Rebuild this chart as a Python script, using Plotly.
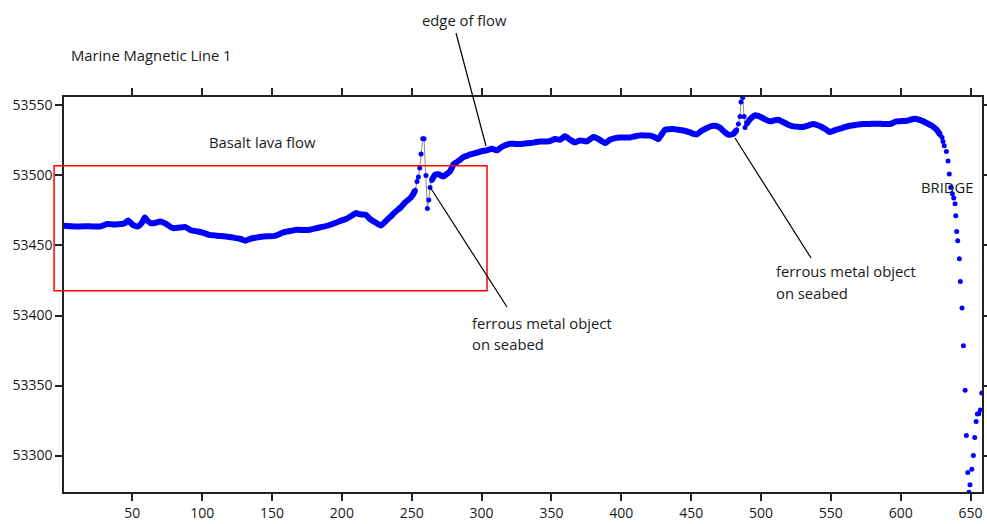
import plotly.graph_objects as go

# ---------------- data ----------------
flow_x = [1, 6, 12, 19, 27, 32, 37, 42, 45, 47, 49, 51, 54, 57, 59, 61, 63, 66, 70, 74,
          79, 84, 88, 92, 97, 101, 105, 109, 113, 118, 122, 127, 131, 134, 137, 141, 144,
          148, 152, 155, 158, 163, 168, 173, 177, 182, 187, 192, 195, 199, 203, 207, 210,
          213, 217, 220, 223, 226, 228, 231, 235, 238, 242, 245, 249, 251, 252.5]
flow_y = [53464.1, 53463.8, 53463.6, 53463.7, 53463.6, 53465.3, 53465.0, 53465.3, 53466.2,
          53467.9, 53466.0, 53464.3, 53463.6, 53466.5, 53470.0, 53467.5, 53466.0, 53466.0,
          53467.1, 53465.5, 53462.4, 53462.8, 53463.1, 53460.9, 53460.0, 53459.0, 53457.6,
          53457.2, 53456.7, 53456.3, 53455.7, 53454.8, 53453.4, 53454.6, 53455.3, 53456.0,
          53456.4, 53456.6, 53456.9, 53458.0, 53459.3, 53460.3, 53461.2, 53461.0, 53461.2,
          53462.4, 53463.5, 53464.8, 53466.0, 53467.6, 53468.9, 53471.2, 53473.1, 53472.3,
          53471.9, 53469.0, 53467.0, 53465.3, 53464.3, 53467.0, 53470.7, 53473.8, 53477.1,
          53480.5, 53483.9, 53486.5, 53489.5]

spike1_x = [253.8, 254.8, 255.7, 256.7, 257.9, 258.8, 260.2, 261.2, 262.2, 263.1]
spike1_y = [53495.7, 53498.9, 53505.3, 53515.3, 53526.2, 53526.2, 53500.0, 53476.4,
            53482.4, 53491.4]

shelf_x = [264.3, 266.7, 269, 272.6, 275, 277.4, 280, 282.2, 285, 287, 289.4, 292, 296.5,
           300, 303.7, 307.3, 310.9, 314.4, 317, 320.4, 324, 327.5, 331, 334.7, 338, 341.8,
           345, 347.8, 350, 352.6, 356.2, 359.7, 363.3, 366.9, 370.5, 375.3, 377.5, 380,
           383.6, 386, 388.4, 391.9, 395, 399.1, 402.5, 406.3, 410, 413.4, 417, 420.6, 424,
           426.5, 429, 431.3, 434, 437.3, 441, 444.4, 449.2, 452, 454, 457, 461.2, 465.9,
           468, 470.7, 474, 476.6, 480.2, 482.6]
shelf_y = [53496.4, 53500.5, 53500.8, 53499.3, 53501.0, 53502.9, 53508.0, 53509.5, 53511.5,
           53513.1, 53514.0, 53515.0, 53516.2, 53517.3, 53517.9, 53519.1, 53517.9, 53520.3,
           53521.5, 53522.6, 53522.5, 53522.4, 53522.8, 53523.1, 53523.6, 53524.3, 53524.2,
           53524.3, 53525.0, 53526.0, 53525.5, 53527.9, 53525.5, 53523.6, 53525.0, 53524.3,
           53525.8, 53527.4, 53526.0, 53524.5, 53523.1, 53525.5, 53526.5, 53527.1, 53527.1,
           53527.1, 53528.0, 53528.6, 53528.5, 53528.4, 53527.3, 53526.0, 53529.5, 53532.6,
           53533.0, 53533.1, 53532.6, 53532.1, 53530.7, 53529.6, 53529.3, 53531.5, 53533.9,
           53535.5, 53535.3, 53534.0, 53531.0, 53529.1, 53529.6, 53532.6]

spike2_x = [483.8, 485.0, 485.7, 486.9, 487.9, 488.6]
spike2_y = [53536.7, 53542.1, 53552.4, 53555.7, 53542.1, 53534.3]

plateau_x = [489.8, 492, 495.7, 498, 500.5, 503, 506.5, 509, 512.4, 515, 517.2, 520, 523.2,
             527, 530.3, 534, 537.5, 540, 543.5, 546.5, 549.4, 553, 556.6, 560, 563.7, 568,
             573.3, 578, 582.8, 587, 592.4, 595, 597.2, 600.5, 604.3, 607, 610.3, 613,
             616.2, 619, 622.2, 624, 625.8, 627, 628.2]
plateau_y = [53536.7, 53540.0, 53542.9, 53542.5, 53541.4, 53540.0, 53538.6, 53539.2, 53539.8,
             53538.5, 53537.4, 53536.0, 53535.0, 53534.7, 53534.6, 53535.8, 53536.7, 53536.0,
             53534.6, 53532.8, 53531.0, 53532.3, 53533.4, 53534.5, 53535.5, 53536.1, 53536.7,
             53536.8, 53536.9, 53536.8, 53536.7, 53537.8, 53538.6, 53538.8, 53539.1, 53539.8,
             53540.5, 53539.8, 53538.6, 53537.2, 53535.5, 53534.2, 53532.6, 53531.0, 53529.1]

bridge_x = [629.6, 630.3, 631.2, 632.7, 633.9, 634.8, 635.8, 637, 638, 638.9, 639.4, 640.1,
            640.8, 642, 642.7, 643.9, 644.9, 646.1, 647, 648, 648.9, 649.6, 650.9, 652, 653,
            654, 654.9, 655.9, 657, 658]
bridge_y = [53527.1, 53524.3, 53521.2, 53517.1, 53510.3, 53501.0, 53491.4, 53486.9, 53483.9,
            53479.8, 53471.2, 53460.0, 53453.4, 53440.5, 53424.3, 53405.3, 53378.4, 53346.7,
            53314.3, 53287.9, 53273.9, 53279.1, 53290.3, 53300.0, 53312.9, 53324.3, 53329.6,
            53329.8, 53332.6, 53344.6]

x_ticks = [50, 100, 150, 200, 250, 300, 350, 400, 450, 500, 550, 600, 650]
y_ticks = [53300, 53350, 53400, 53450, 53500, 53550]
x_range = [1.1, 658.2]
y_range = [53274, 53556]

# highlighted box (data units)
box_x = [-6.0, 303.9]
box_y = [53417.6, 53506.9]

# ---------------- build ----------------
all_x = flow_x + spike1_x + shelf_x + spike2_x + plateau_x + bridge_x
all_y = flow_y + spike1_y + shelf_y + spike2_y + plateau_y + bridge_y
link_x = flow_x + spike1_x + shelf_x + spike2_x + plateau_x
link_y = flow_y + spike1_y + shelf_y + spike2_y + plateau_y
band_x = flow_x + [None] + shelf_x + [None] + plateau_x
band_y = flow_y + [None] + shelf_y + [None] + plateau_y

BLUE = "#0000ff"
FONT = "Open Sans"

fig = go.Figure()
fig.add_trace(go.Scatter(x=link_x, y=link_y, mode="lines",
                         line=dict(color="#8c8c8c", width=1), hoverinfo="skip",
                         showlegend=False))
fig.add_trace(go.Scatter(x=band_x, y=band_y, mode="lines", connectgaps=False,
                         line=dict(color=BLUE, width=6, shape="spline", smoothing=0.6),
                         hoverinfo="skip", showlegend=False))
fig.add_trace(go.Scatter(x=all_x, y=all_y, mode="markers",
                         marker=dict(color=BLUE, size=5), showlegend=False))

L, R, T, B = 64, 5, 97, 32
W, H = 987, 524
pw, ph = W - L - R, H - T - B


def pxx(px):
    return (px - L) / pw


def pxy(py):
    return (H - B - py) / ph


def dx2p(x):
    return (x - x_range[0]) / (x_range[1] - x_range[0])


def dy2p(y):
    return (y - y_range[0]) / (y_range[1] - y_range[0])


shapes = [
    dict(type="rect", xref="paper", yref="paper",
         x0=dx2p(box_x[0]), x1=dx2p(box_x[1]), y0=dy2p(box_y[0]), y1=dy2p(box_y[1]),
         line=dict(color="#ff0000", width=1.5), fillcolor="rgba(0,0,0,0)"),
]
callout_lines = [((456, 33), (486, 146)), ((430, 187), (507, 307)), ((735, 138), (811, 258))]
for (a, b) in callout_lines:
    shapes.append(dict(type="line", xref="paper", yref="paper",
                       x0=pxx(a[0]), y0=pxy(a[1]), x1=pxx(b[0]), y1=pxy(b[1]),
                       line=dict(color="#000000", width=1.2)))

labels = [
    ("Marine Magnetic Line 1", 69, 55),
    ("edge of flow", 420, 20),
    ("Basalt lava flow", 207, 142),
    ("ferrous metal object", 470, 323),
    ("on seabed", 470, 344),
    ("ferrous metal object", 774, 271),
    ("on seabed", 774, 293),
    ("BRIDGE", 919, 187),
]
annotations = [dict(text=t, x=pxx(x), y=pxy(y), xref="paper", yref="paper",
                    xanchor="left", yanchor="middle", showarrow=False,
                    font=dict(family=FONT, size=14.8, color="#1a1a1a"))
               for (t, x, y) in labels]

axis_common = dict(showgrid=False, zeroline=False, showline=True, linecolor="#222222",
                   linewidth=1.5, ticks="outside", ticklen=7, tickwidth=1.5,
                   tickcolor="#222222", mirror="ticks", automargin=False,
                   tickfont=dict(family=FONT, size=14, color="#1a1a1a"))

fig.update_layout(
    template="none",
    width=W, height=H,
    margin=dict(l=L, r=R, t=T, b=B),
    paper_bgcolor="white", plot_bgcolor="white",
    xaxis=dict(range=x_range, tickvals=x_ticks, tickformat="d", **axis_common),
    yaxis=dict(range=y_range, tickvals=y_ticks, tickformat="d", **axis_common),
    shapes=shapes, annotations=annotations, showlegend=False,
)

fig.write_html("out.html")
